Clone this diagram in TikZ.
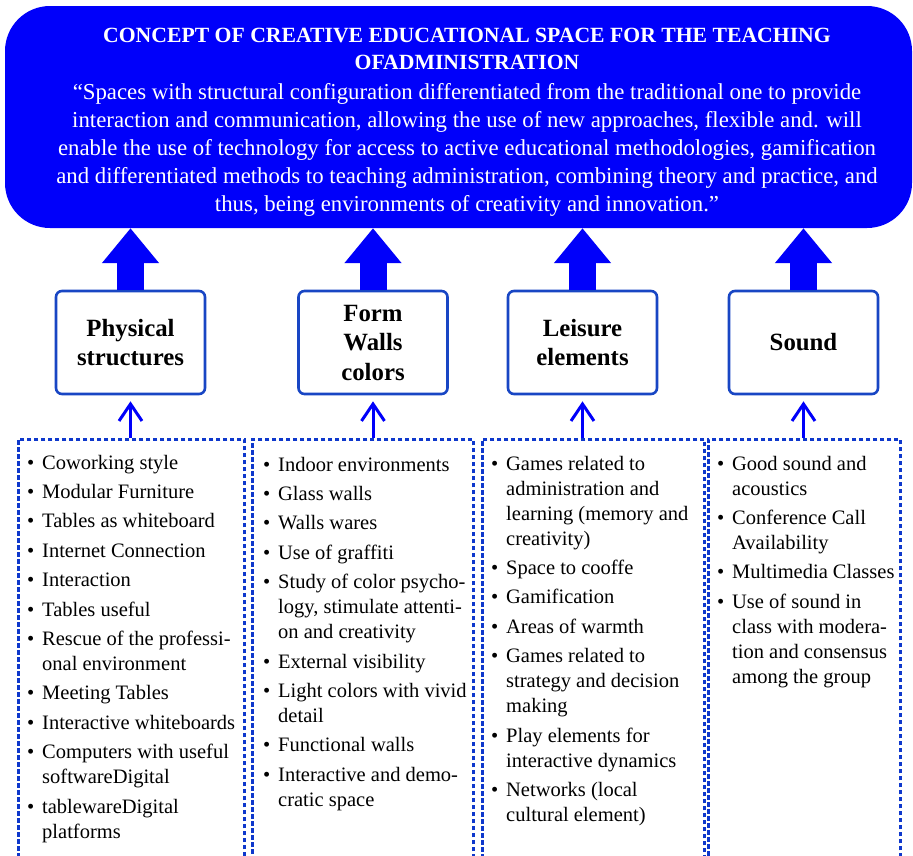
\documentclass[tikz,border=0pt]{standalone}
\usepackage{fontspec}
\setmainfont{Liberation Serif}
\usetikzlibrary{arrows.meta}
\definecolor{bannerblue}{RGB}{0,0,250}
\definecolor{boxblue}{RGB}{24,70,196}
\definecolor{dashblue}{RGB}{14,56,204}
\definecolor{arrowblue}{RGB}{0,0,250}
\newcommand{\bu}{\par\hangindent=15pt\hangafter=1\noindent\makebox[15pt][l]{\textbullet}}
\newcommand{\listblock}[1]{\parbox[t]{230pt}{\rmfamily\fontsize{20.5}{25}\selectfont\setlength{\parskip}{4.4pt}#1\par}}
\begin{document}
\begin{tikzpicture}[x=1pt,y=-1pt,
  banner/.style={shape=rectangle, rounded corners=45pt, fill=bannerblue, draw=none,
    minimum width=907pt, minimum height=222pt, inner sep=0pt},
  titletxt/.style={text=white, font=\rmfamily\bfseries\fontsize{21.7}{27}\selectfont, inner sep=0pt, anchor=base},
  quotetxt/.style={text=white, font=\rmfamily\fontsize{22.8}{28}\selectfont, inner sep=0pt, anchor=base},
  head/.style={shape=rectangle, rounded corners=6pt, draw=boxblue, line width=2.6pt, fill=white,
    minimum width=149pt, minimum height=103pt, inner sep=0pt, align=center,
    font=\rmfamily\bfseries\fontsize{24.8}{29.5}\selectfont},
  bigarrow/.style={draw=arrowblue, line width=27pt, -{Triangle[length=35pt,width=55pt]}},
  thinarrow/.style={draw=arrowblue, line width=3pt, shorten >=6pt,
    -{Straight Barb[length=17pt,width=23pt,line width=3pt]}},
  frame/.style={shape=rectangle, draw=dashblue, line width=2.5pt, dash pattern=on 4.5pt off 2.5pt,
    fill=white, inner sep=0pt, minimum height=450pt, anchor=north west},
  listtxt/.style={inner sep=0pt, anchor=base west}
]
\useasboundingbox (0,0) rectangle (913,855);
\clip (0,0) rectangle (913,855);
\fill[white] (0,0) rectangle (913,855);

% banner
\node[banner] (B) at (458.5,117) {};
\node[titletxt] (t1) at (467,42) {CONCEPT OF CREATIVE EDUCATIONAL SPACE FOR THE TEACHING};
\node[titletxt] (t2) at (467,69) {OFADMINISTRATION};
\node[quotetxt] (q1) at (467,99) {“Spaces with structural configuration differentiated from the traditional one to provide};
\node[quotetxt] (q2) at (467,127) {interaction and communication, allowing the use of new approaches, flexible and. will};
\node[quotetxt] (q3) at (467,155) {enable the use of technology for access to active educational methodologies, gamification};
\node[quotetxt] (q4) at (467,183) {and differentiated methods to teaching administration, combining theory and practice, and};
\node[quotetxt] (q5) at (467,211) {thus, being environments of creativity and innovation.”};

% header boxes
\node[head] (H1) at (130.5,342.5) {Physical\\structures};
\node[head] (H2) at (373,342.5) {Form\\Walls\\colors};
\node[head] (H3) at (582.5,342.5) {Leisure\\elements};
\node[head] (H4) at (803.5,342.5) {Sound};

% block arrows
\foreach \h in {H1,H2,H3,H4}
  \draw[bigarrow] (\h.north) -- (\h.north |- B.south);

% dashed frames
\node[frame, minimum width=226pt] (F1) at (17,438) {};
\node[frame, minimum width=221pt] (F2) at (251,438) {};
\node[frame, minimum width=222pt] (F3) at (481,438) {};
\node[frame, minimum width=192pt] (F4) at (707,438) {};

% thin arrows
\draw[thinarrow] (H1.south |- F1.north) -- (H1.south);
\draw[thinarrow] (H2.south |- F2.north) -- (H2.south);
\draw[thinarrow] (H3.south |- F3.north) -- (H3.south);
\draw[thinarrow] (H4.south |- F4.north) -- (H4.south);

% lists
\node[listtxt] (L1) at (27,469) {\listblock{%
\bu Coworking style
\bu Modular Furniture
\bu Tables as whiteboard
\bu Internet Connection
\bu Interaction
\bu Tables useful
\bu Rescue of the professi-\newline onal environment
\bu Meeting Tables
\bu Interactive whiteboards
\bu Computers with useful\newline softwareDigital
\bu tablewareDigital\newline platforms}};

\node[listtxt] (L2) at (263,471) {\listblock{%
\bu Indoor environments
\bu Glass walls
\bu Walls wares
\bu Use of graffiti
\bu Study of color psycho-\newline logy, stimulate attenti-\newline on and creativity
\bu External visibility
\bu Light colors with vivid\newline detail
\bu Functional walls
\bu Interactive and demo-\newline cratic space}};

\node[listtxt] (L3) at (491,470) {\listblock{%
\bu Games related to\newline administration and\newline learning (memory and\newline creativity)
\bu Space to cooffe
\bu Gamification
\bu Areas of warmth
\bu Games related to\newline strategy and decision\newline making
\bu Play elements for\newline interactive dynamics
\bu Networks (local\newline cultural element)}};

\node[listtxt] (L4) at (717,470) {\listblock{%
\bu Good sound and\newline acoustics
\bu Conference Call\newline Availability
\bu Multimedia Classes
\bu Use of sound in\newline class with modera-\newline tion and consensus\newline among the group}};
\end{tikzpicture}
\end{document}
